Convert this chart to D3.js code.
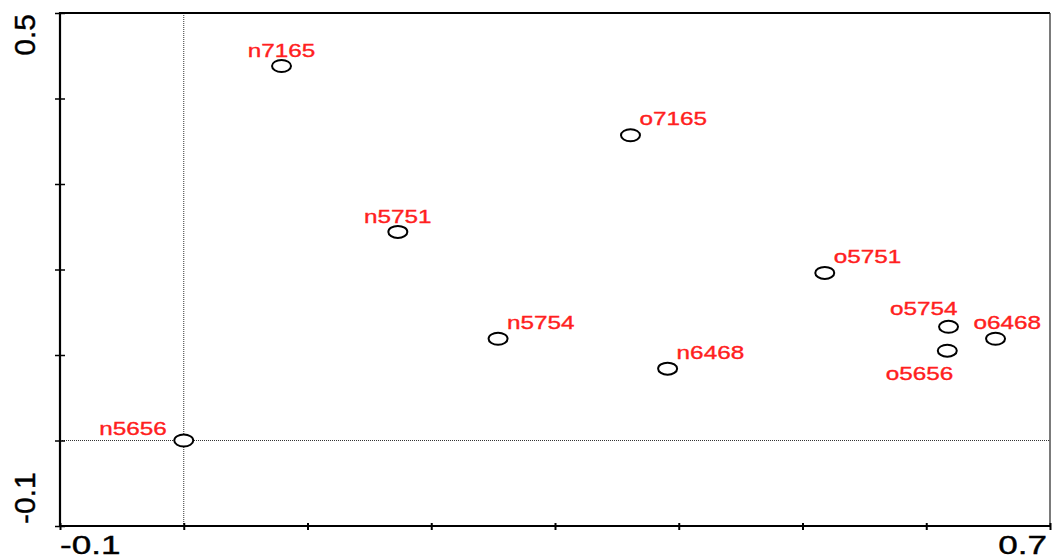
<!DOCTYPE html>
<html>
<head>
<meta charset="utf-8">
<script src="https://cdn.jsdelivr.net/npm/d3@7"></script>
<style>
  html, body { margin: 0; padding: 0; background: #fff; }
  svg { display: block; }
  text { font-family: "Liberation Sans", Arial, sans-serif; }
</style>
</head>
<body>
<div id="chart"></div>
<script>
// ---- data ----
const names  = ["n7165", "o7165", "n5751", "o5751", "n5754", "n6468", "o5754", "o6468", "o5656", "n5656"];
const xVals  = [0.079, 0.361, 0.173, 0.518, 0.254, 0.391, 0.618, 0.656, 0.617, 0.000];
const yVals  = [0.438, 0.357, 0.244, 0.196, 0.119, 0.084, 0.133, 0.119, 0.105, 0.000];
const placement = ["n", "ne", "n", "ne", "ne", "ne", "nw", "nne", "sw", "w"];
const xTicks = [-0.1, 0, 0.1, 0.2, 0.3, 0.4, 0.5, 0.6, 0.7];
const yTicks = [-0.1, 0, 0.1, 0.2, 0.3, 0.4, 0.5];
const xTickLabels = ["-0.1", "0.7"];
const yTickLabels = ["-0.1", "0.5"];

// ---- layout ----
const W = 1052, H = 560;
const pL = 60, pR = 1050, pT = 13, pB = 526;
const sx = 1.35; // horizontal stretch of text

const x = d3.scaleLinear().domain([-0.1, 0.7]).range([pL, pR]);
const y = d3.scaleLinear().domain([-0.1, 0.5]).range([pB, pT]);

const svg = d3.select("#chart").append("svg").attr("width", W).attr("height", H);

// reference dotted lines at 0
svg.append("line")
  .attr("x1", x(0)).attr("x2", x(0)).attr("y1", pT).attr("y2", pB)
  .attr("stroke", "#333").attr("stroke-width", 1).attr("stroke-dasharray", "1,1");
svg.append("line")
  .attr("x1", pL).attr("x2", pR).attr("y1", y(0)).attr("y2", y(0))
  .attr("stroke", "#333").attr("stroke-width", 1).attr("stroke-dasharray", "1,1");

// frame
svg.append("line").attr("x1", pL - 1).attr("x2", pR).attr("y1", pT).attr("y2", pT)
  .attr("stroke", "#000").attr("stroke-width", 2);
svg.append("line").attr("x1", pR).attr("x2", pR).attr("y1", pT).attr("y2", pB)
  .attr("stroke", "#222").attr("stroke-width", 1.2);

// axes
const xAxis = d3.axisBottom(x).tickValues(xTicks).tickSize(4).tickFormat("");
const gx = svg.append("g").attr("transform", `translate(0,${pB})`).call(xAxis);
gx.select(".domain").attr("stroke", "#000").attr("stroke-width", 2.2)
  .attr("d", `M${pL - 1},0H${pR + 1}`);
gx.selectAll(".tick line").attr("stroke", "#000").attr("stroke-width", 2).attr("y1", -3).attr("y2", 4);

const yAxis = d3.axisLeft(y).tickValues(yTicks).tickSize(5).tickFormat("");
const gy = svg.append("g").attr("transform", `translate(${pL},0)`).call(yAxis);
gy.select(".domain").attr("stroke", "#000").attr("stroke-width", 2.2)
  .attr("d", `M0,${pT - 1}V${pB + 1}`);
gy.selectAll(".tick line").attr("stroke", "#000").attr("stroke-width", 1.5).attr("x1", 5).attr("x2", -5);

// x tick labels (first and last)
const xLab = [
  { t: xTickLabels[0], v: xTicks[0], anchor: "start" },
  { t: xTickLabels[1], v: xTicks[xTicks.length - 1], anchor: "end" }
];
svg.selectAll(".xlab").data(xLab).enter().append("text")
  .attr("transform", d => `translate(${x(d.v) + (d.anchor === "start" ? 0 : -3)},554) scale(${sx},1)`)
  .attr("text-anchor", d => d.anchor)
  .attr("font-size", 26)
  .attr("fill", "#000").attr("stroke", "#000").attr("stroke-width", 0.4)
  .text(d => d.t);

// y tick labels (first and last), rotated
const yLab = [
  { t: yTickLabels[0], v: yTicks[0], anchor: "start" },
  { t: yTickLabels[1], v: yTicks[yTicks.length - 1], anchor: "end" }
];
svg.selectAll(".ylab").data(yLab).enter().append("text")
  .attr("transform", d => `translate(35,${y(d.v) + (d.anchor === "start" ? -2 : 1)}) rotate(-90)`)
  .attr("text-anchor", d => d.anchor)
  .attr("font-size", 30)
  .attr("fill", "#000").attr("stroke", "#000").attr("stroke-width", 0.4)
  .text(d => d.t);

// points
const pts = names.map((n, i) => ({ name: n, x: xVals[i], y: yVals[i], p: placement[i] }));

svg.selectAll(".pt").data(pts).enter().append("ellipse")
  .attr("cx", d => x(d.x)).attr("cy", d => y(d.y))
  .attr("rx", 9.5).attr("ry", 6)
  .attr("fill", "#fff").attr("stroke", "#000").attr("stroke-width", 2);

// label placement rules
const place = {
  n:   { dx: 0,   dy: -9,  a: "middle" },
  ne:  { dx: 9,   dy: -10, a: "start" },
  nne: { dx: -22, dy: -10, a: "start" },
  nw:  { dx: 9,   dy: -12, a: "end" },
  sw:  { dx: 6,   dy: 29,  a: "end" },
  w:   { dx: -17, dy: -6,  a: "end" }
};

svg.selectAll(".lab").data(pts).enter().append("text")
  .attr("transform", d => `translate(${x(d.x) + place[d.p].dx},${y(d.y) + place[d.p].dy}) scale(${sx},1)`)
  .attr("text-anchor", d => place[d.p].a)
  .attr("font-size", 18)
  .attr("fill", "#ff2020").attr("stroke", "#ff2020").attr("stroke-width", 0.35)
  .text(d => d.name);
</script>
</body>
</html>
